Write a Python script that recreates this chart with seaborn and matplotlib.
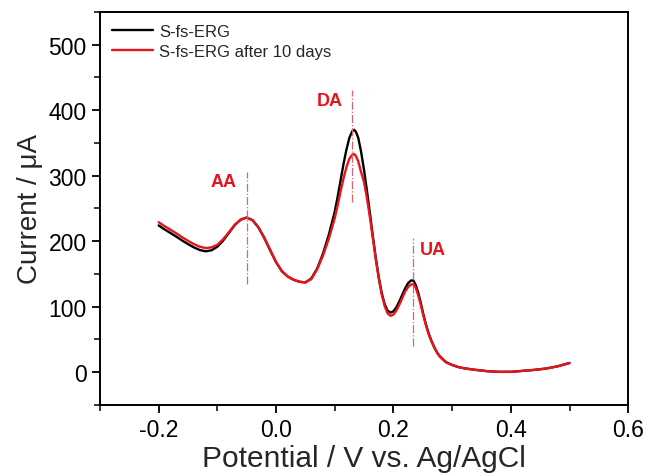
import numpy as np
import pandas as pd
import matplotlib
matplotlib.use("Agg")
import matplotlib.pyplot as plt
from matplotlib.ticker import MultipleLocator
import seaborn as sns

# --- data (potential in V, current in uA) ---
potential = [-0.2, -0.19, -0.18, -0.17, -0.16, -0.15, -0.14, -0.13, -0.12, -0.11,
             -0.10, -0.09, -0.08, -0.07, -0.06, -0.05, -0.04, -0.03, -0.02, -0.01,
             0.0, 0.01, 0.02, 0.03, 0.04, 0.05, 0.06, 0.07, 0.08, 0.09,
             0.10, 0.105, 0.11, 0.115, 0.12, 0.125, 0.13, 0.133, 0.136, 0.14,
             0.145, 0.15, 0.155, 0.16, 0.165, 0.17, 0.175, 0.18, 0.185, 0.19,
             0.195, 0.2, 0.205, 0.21, 0.215, 0.22, 0.225, 0.23, 0.234, 0.238,
             0.242, 0.246, 0.25, 0.255, 0.26, 0.265, 0.27, 0.275, 0.28, 0.29,
             0.30, 0.31, 0.32, 0.34, 0.36, 0.38, 0.40, 0.42, 0.44, 0.46,
             0.48, 0.5]
current_fresh = [224, 218, 212.5, 207, 201, 195.5, 190.5, 186.5, 184.5, 186,
                 191.5, 201, 213, 225, 233, 236, 232, 221, 205, 186,
                 168, 154, 146, 141, 138, 137, 143, 158, 181, 210,
                 245, 268, 293, 318, 340, 358, 368, 370, 367, 358,
                 336, 308, 276, 242, 207, 174, 145, 121, 104, 94,
                 91, 93, 99, 108, 118, 128, 136, 140, 140, 133,
                 122, 108, 92, 74, 59, 47, 37, 29, 23, 15,
                 11, 8, 6, 3.5, 1.5, 0.5, 0.5, 2, 3.5, 5.5,
                 9, 14]
current_10days = [229, 223, 217.5, 212, 206, 200.5, 195.5, 191.5, 189.5, 190.5,
                  194.5, 203, 214, 225, 233, 236, 232, 221, 205, 187,
                  168, 154, 146, 141, 138, 137, 142, 157, 178, 204,
                  235, 255, 276, 296, 313, 326, 332, 333, 330, 322,
                  305, 290, 265, 236, 204, 172, 143, 119, 101, 90,
                  86, 88, 94, 103, 113, 123, 130, 134, 134, 129,
                  118, 105, 90, 73, 58, 47, 37, 29, 23, 15,
                  11, 8, 6, 3.5, 1.5, 0.5, 0.5, 2, 3.5, 5.5,
                  9, 14]

series_names = ["S-fs-ERG", "S-fs-ERG after 10 days"]
series_colors = ["#000000", "#e8141c"]

peak_labels = ["AA", "DA", "UA"]
peak_potential = [-0.05, 0.13, 0.233]
peak_line_range = [(135, 305), (260, 430), (40, 205)]
peak_label_pos = [(-0.089, 291), (0.092, 415), (0.268, 187)]

df = pd.concat([
    pd.DataFrame({"Potential": potential, "Current": current_fresh, "Sample": series_names[0]}),
    pd.DataFrame({"Potential": potential, "Current": current_10days, "Sample": series_names[1]}),
])

sns.set_style("ticks")
plt.rcParams["font.family"] = ["Liberation Sans", "DejaVu Sans"]

fig = plt.figure(figsize=(6.49, 4.77), dpi=100)
ax = fig.add_axes([0.154, 0.149, 0.814, 0.824])

sns.lineplot(data=df, x="Potential", y="Current", hue="Sample", palette=series_colors,
             linewidth=1.7, ax=ax, sort=False)
for ln in ax.get_lines():
    ln.set_solid_joinstyle("round")

# peak markers
for lab, xp, (y0, y1), (tx, ty) in zip(peak_labels, peak_potential, peak_line_range, peak_label_pos):
    ax.plot([xp, xp], [y0, y1], color="#d9666a", lw=0.9, ls="-.")
    ax.text(tx, ty, lab, color="#e8141c", fontsize=13, fontweight="bold",
            ha="center", va="center")

ax.set_xlim(-0.3, 0.6)
ax.set_ylim(-50, 550)
ax.xaxis.set_minor_locator(MultipleLocator(0.1))
ax.yaxis.set_minor_locator(MultipleLocator(50))
ax.set_xticks([-0.2, 0.0, 0.2, 0.4, 0.6])
ax.set_xticklabels(["-0.2", "0.0", "0.2", "0.4", "0.6"])
ax.set_yticks([0, 100, 200, 300, 400, 500])
ax.tick_params(which="major", direction="out", length=6, width=1.3, labelsize=16.5, colors="black")
ax.tick_params(which="minor", direction="out", length=4, width=1.3)
ax.tick_params(top=False, right=False, which="both")
for sp in ax.spines.values():
    sp.set_visible(True)
    sp.set_linewidth(1.4)
    sp.set_color("black")

ax.set_xlabel("Potential / V vs. Ag/AgCl", fontsize=21.5, labelpad=2)
ax.set_ylabel("Current / μA", fontsize=20, labelpad=4)

leg = ax.legend(loc="upper left", frameon=False, fontsize=12, handlelength=2.5,
                handletextpad=0.35, borderaxespad=0.3, labelspacing=0.3)
for h in leg.get_lines():
    h.set_linewidth(1.7)

fig.savefig("out.png", dpi=100)
